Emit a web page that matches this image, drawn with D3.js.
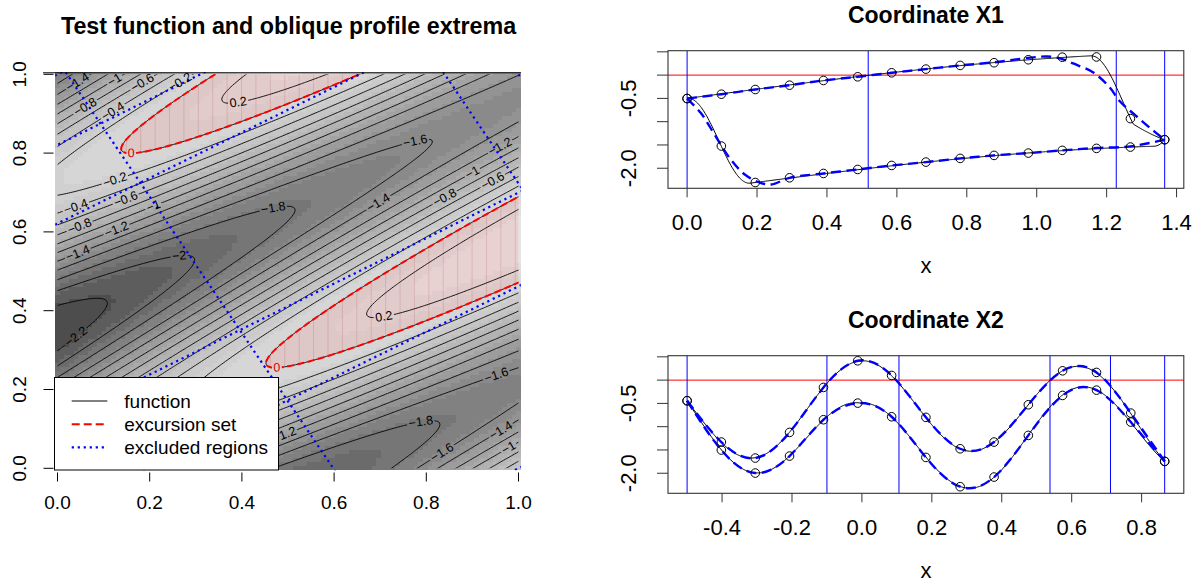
<!DOCTYPE html>
<html><head><meta charset="utf-8">
<script src="https://cdn.jsdelivr.net/npm/d3@7"></script>
<style>
body{margin:0;background:#fff;}
svg{display:block;font-family:"Liberation Sans",Arial,Helvetica,sans-serif;}
</style></head><body>
<svg id="chart" width="1196" height="583"></svg>
<script>
// ================= DATA =================
// test function  f(x) = sin(a*X1 + b) + cos(c*X2 + d) + offset,
// X1, X2 = projections of x on the oblique directions (angle below)
const obliqueAngleDeg = 30;
const testFunParams = [1, 0, 10, 0];
const testFunOffset = [-1.5];
const threshold = [0];
const contourLevels = [-2.2, -2, -1.8, -1.6, -1.4, -1.2, -1, -0.8, -0.6, -0.4, -0.2, 0, 0.2];
const imageGridSize = [100];
const grayLevelCount = [20];

// design points and profile extrema (coordinate X1)
const designX1 = [0, 0.098, 0.195, 0.293, 0.39, 0.488, 0.585, 0.683, 0.781, 0.878, 0.976, 1.073, 1.171, 1.268, 1.366];
const supX1 = [-0.503, -0.41, -0.309, -0.216, -0.115, -0.036, 0.05, 0.129, 0.208, 0.266, 0.33, 0.385, 0.39, -0.934, -1.387];
const infX1 = [-0.503, -1.523, -2.306, -2.205, -2.112, -2.026, -1.94, -1.868, -1.789, -1.724, -1.674, -1.616, -1.573, -1.545, -1.387];
// approximated profiles (blue dashed) for X1: [x, value]
const approxSupX1 = [[0,-0.503],[0.098,-0.41],[0.195,-0.309],[0.293,-0.216],[0.39,-0.115],[0.488,-0.036],[0.585,0.05],[0.683,0.129],[0.781,0.208],[0.878,0.275],[0.976,0.37],[1.03,0.4],[1.071,0.35],[1.104,0.25],[1.162,0.056],[1.209,-0.267],[1.237,-0.556],[1.28,-0.85],[1.323,-1.128],[1.366,-1.387]];
const approxInfX1 = [[0,-0.503],[0.04,-0.82],[0.078,-1.27],[0.121,-1.774],[0.165,-2.134],[0.21,-2.313],[0.241,-2.349],[0.293,-2.205],[0.39,-2.112],[0.488,-2.026],[0.585,-1.94],[0.683,-1.868],[0.781,-1.789],[0.878,-1.724],[0.976,-1.674],[1.073,-1.616],[1.171,-1.565],[1.268,-1.53],[1.366,-1.387]];

// coordinate X2
const designX2 = [-0.5, -0.402, -0.305, -0.207, -0.11, -0.012, 0.085, 0.183, 0.281, 0.378, 0.476, 0.574, 0.671, 0.769, 0.866];
const supX2 = [-0.443, -1.33, -1.674, -1.123, -0.157, 0.415, 0.1, -0.8, -1.474, -1.33, -0.529, 0.2, 0.165, -0.708, -1.745];
const infX2 = [-0.443, -1.502, -1.996, -1.631, -0.851, -0.494, -0.787, -1.66, -2.289, -2.082, -1.187, -0.329, -0.215, -0.901, -1.745];

// boundaries of the excluded regions along each coordinate
const excludedX1 = [0, 0.518, 1.2275, 1.366];
const excludedX2 = [-0.5, -0.1, 0.106, 0.538, 0.711, 0.866];

// axis ticks
const ticksLeft = [0, 0.2, 0.4, 0.6, 0.8, 1];
const ticksX1 = [0, 0.2, 0.4, 0.6, 0.8, 1, 1.2, 1.4];
const ticksX2 = [-0.4, -0.2, 0, 0.2, 0.4, 0.6, 0.8];
const ticksYProfile = [0.5, 0, -0.5, -1, -1.5, -2];
const labelledYProfile = [-0.5, -2];

const legendLabels = ["function", "excursion set", "excluded regions"];

// approximate spots (data coords) where contour labels sit
const contourLabelSpots = [
  [-1.4,0.042,0.981],[-1,0.125,0.986],[-0.6,0.183,0.981],[-0.2,0.266,0.981],
  [-0.8,0.062,0.918],[-0.4,0.12,0.903],[0.2,0.392,0.93],[0,0.161,0.8],
  [-0.2,0.125,0.732],[-0.4,0.038,0.668],[-0.6,0.146,0.689],[-1,0.208,0.664],
  [-0.8,0.049,0.613],[-1.2,0.128,0.609],[-1.8,0.47,0.651],[-1.4,0.042,0.546],
  [-2,0.266,0.533],[-1.6,0.776,0.821],[-1.2,0.964,0.812],[-1,0.902,0.749],
  [-0.6,0.949,0.723],[-0.8,0.841,0.681],[-1.4,0.696,0.673],[-2.2,0.042,0.33],
  [0.2,0.707,0.393],[0,0.474,0.258],[-1.6,0.953,0.237],[-1.8,0.79,0.11],
  [-1.6,0.83,0.047],[-1.4,0.964,0.093],[-1,0.978,0.051],[-1.2,0.493,0.08]
];

// ================= HELPERS =================
const svg = d3.select("#chart");
const W = 1196, H = 583;
const th = obliqueAngleDeg * Math.PI / 180;
const psi1 = [Math.cos(th), Math.sin(th)];
const psi2 = [-Math.sin(th), Math.cos(th)];
const proj = (p, x1, x2) => p[0] * x1 + p[1] * x2;
function testF(x1, x2) {
  const [a, b, c, d] = testFunParams;
  return Math.sin(a * proj(psi1, x1, x2) + b) + Math.cos(c * proj(psi2, x1, x2) + d) + testFunOffset[0];
}
function grayColors(n, start, end, gamma) {
  const a = Math.pow(start, gamma), b = Math.pow(end, gamma);
  return d3.range(n).map(i => {
    const v = Math.round(Math.pow(a + (b - a) * i / (n - 1), 1 / gamma) * 255);
    return `rgb(${v},${v},${v})`;
  });
}
const minus = s => s.replace(/^-/, "\u2212");
const fmt1 = v => d3.format(".1f")(v).replace("\u2212", "-");
const defs = svg.append("defs");

// ================= LEFT PANEL =================
const xL = d3.scaleLinear().domain([0, 1]).range([57.5, 518.5]);
const yL = d3.scaleLinear().domain([0, 1]).range([468.3, 74.3]);
const nImg = imageGridSize[0];
const half = 0.5 / (nImg - 1);
const reg = { l: xL(-half), r: xL(1 + half), t: yL(1 + half), b: yL(-half) };

defs.append("clipPath").attr("id", "clipUnit").append("rect")
  .attr("x", xL(0)).attr("y", yL(1)).attr("width", xL(1) - xL(0)).attr("height", yL(0) - yL(1));
defs.append("clipPath").attr("id", "clipReg").append("rect")
  .attr("x", reg.l).attr("y", reg.t).attr("width", reg.r - reg.l).attr("height", reg.b - reg.t);

// gray image
const gv = d3.range(nImg).map(i => i / (nImg - 1));
const z = gv.map(y => gv.map(x => testF(x, y)));
const zExt = d3.extent(z.flat());
const cols = grayColors(grayLevelCount[0], 0.3, 0.9, 2.2);
const colIdx = v => Math.min(cols.length - 1, Math.max(0, Math.floor((v - zExt[0]) / (zExt[1] - zExt[0]) * cols.length)));
const gImg = svg.append("g").attr("shape-rendering", "crispEdges");
for (let j = 0; j < nImg; j++) {
  let i = 0;
  while (i < nImg) {
    const c = colIdx(z[j][i]);
    let k = i;
    while (k + 1 < nImg && colIdx(z[j][k + 1]) === c) k++;
    gImg.append("rect")
      .attr("x", xL(gv[i] - half)).attr("width", xL(gv[k] + half) - xL(gv[i] - half))
      .attr("y", yL(gv[j] + half)).attr("height", yL(gv[j] - half) - yL(gv[j] + half))
      .attr("fill", cols[c]);
    i = k + 1;
  }
}

// contours on a fine grid (slightly larger than the unit square)
const cStep = 0.004, cLo = -0.02, cN = Math.round(1.04 / cStep) + 1;
const cVals = new Float64Array(cN * cN);
for (let j = 0; j < cN; j++) for (let i = 0; i < cN; i++) cVals[j * cN + i] = testF(cLo + i * cStep, cLo + j * cStep);
const contoursAll = d3.contours().size([cN, cN]).thresholds(contourLevels)(cVals);
const toPx = p => [xL(cLo + (p[0] - 0.5) * cStep), yL(cLo + (p[1] - 0.5) * cStep)];
const ringsOf = lev => {
  const c = contoursAll.find(d => Math.abs(d.value - lev) < 1e-9);
  if (!c) return [];
  return c.coordinates.flatMap(poly => poly.map(r => r.map(toPx)));
};
const ringPath = rings => rings.map(r => "M" + r.map(p => p[0].toFixed(2) + "," + p[1].toFixed(2)).join("L") + "Z").join("");

// excursion set shading
const exRings = ringsOf(threshold[0]);
defs.append("clipPath").attr("id", "clipEx").attr("clip-path", "url(#clipUnit)")
  .append("path").attr("d", ringPath(exRings)).attr("clip-rule", "evenodd");
const gEx = svg.append("g").attr("clip-path", "url(#clipUnit)");
gEx.append("path").attr("d", ringPath(exRings)).attr("fill", "rgba(255,0,0,0.09)").attr("fill-rule", "evenodd");
const gSeam = svg.append("g").attr("clip-path", "url(#clipEx)");
gSeam.append("g").attr("clip-path", "url(#clipUnit)").selectAll("line").data(d3.range(0, 34)).join("line")
  .attr("x1", k => xL(-0.007 + k / 32)).attr("x2", k => xL(-0.007 + k / 32))
  .attr("y1", reg.t).attr("y2", reg.b).attr("stroke", "rgba(140,0,0,0.13)").attr("stroke-width", 1);

// masks for label gaps
const maskW = defs.append("mask").attr("id", "gapMask").attr("maskUnits", "userSpaceOnUse")
  .attr("x", 0).attr("y", 0).attr("width", W).attr("height", H);
maskW.append("rect").attr("x", 0).attr("y", 0).attr("width", W).attr("height", H).attr("fill", "white");
const maskR = defs.append("mask").attr("id", "gapMaskRed").attr("maskUnits", "userSpaceOnUse")
  .attr("x", 0).attr("y", 0).attr("width", W).attr("height", H);
maskR.append("rect").attr("x", 0).attr("y", 0).attr("width", W).attr("height", H).attr("fill", "white");

const labelFont = 12.5;
const labelSpecs = contourLabelSpots.map(([lev, lx, ly]) => {
  const rings = ringsOf(lev);
  const tx = xL(lx), ty = yL(ly);
  let best = null;
  rings.forEach((r, ri) => r.forEach((p, pi) => {
    if (p[0] < xL(0) || p[0] > xL(1) || p[1] < yL(1) || p[1] > yL(0)) return;
    const d = (p[0] - tx) ** 2 + (p[1] - ty) ** 2;
    if (!best || d < best.d) best = { d, ri, pi };
  }));
  return { lev, best, rings };
});

// black contours
const gCont = svg.append("g").attr("clip-path", "url(#clipUnit)");
const gContInner = gCont.append("g").attr("mask", "url(#gapMask)");
contourLevels.forEach(lev => {
  gContInner.append("path").attr("d", ringPath(ringsOf(lev)))
    .attr("fill", "none").attr("stroke", "#000").attr("stroke-width", 0.9);
});
// red excursion-set boundary
gCont.append("g").attr("mask", "url(#gapMaskRed)").append("path").attr("d", ringPath(exRings))
  .attr("fill", "none").attr("stroke", "#ff0000").attr("stroke-width", 2).attr("stroke-dasharray", "7,3.5");

// label text
const gLab = svg.append("g");
labelSpecs.forEach(s => {
  if (!s.best) return;
  const isZero = Math.abs(s.lev) < 1e-9;
  const txt = isZero ? "0" : minus(String(s.lev));
  const t = gLab.append("text").attr("font-size", labelFont).attr("text-anchor", "middle")
    .attr("dominant-baseline", "central").attr("fill", isZero ? "#e00000" : "#000").text(txt);
  const w = t.node().getComputedTextLength();
  const r = s.rings[s.best.ri];
  const m = r.length - 1;
  const walk = dir => {
    let idx = s.best.pi, acc = 0, p = r[idx];
    for (let n = 0; n < m; n++) {
      let ni = (idx + dir + m) % m;
      const q = r[ni];
      const seg = Math.hypot(q[0] - p[0], q[1] - p[1]);
      if (acc + seg >= w / 2) {
        const f = (w / 2 - acc) / seg;
        return [p[0] + (q[0] - p[0]) * f, p[1] + (q[1] - p[1]) * f];
      }
      acc += seg; p = q; idx = ni;
    }
    return p;
  };
  const a = walk(-1), b = walk(1);
  let ang = Math.atan2(b[1] - a[1], b[0] - a[0]) * 180 / Math.PI;
  if (ang > 90) ang -= 180;
  if (ang < -90) ang += 180;
  const c = r[s.best.pi];
  const tr = `translate(${c[0]},${c[1]}) rotate(${ang})`;
  t.attr("transform", tr);
  const gap = (mk) => mk.append("rect").attr("x", -w / 2 - 1.5).attr("y", -labelFont * 0.45)
    .attr("width", w + 3).attr("height", labelFont * 0.9).attr("transform", tr).attr("fill", "black");
  gap(maskW);
  if (isZero) gap(maskR);
});

// excluded regions (blue dotted lines)
const gEx2 = svg.append("g").attr("clip-path", "url(#clipReg)");
const excLines = [];
excludedX1.forEach(c => excLines.push([psi1, psi2, c]));
excludedX2.forEach(c => excLines.push([psi2, psi1, c]));
excLines.forEach(([p, q, c]) => {
  const A = [c * p[0] - 2 * q[0], c * p[1] - 2 * q[1]];
  const B = [c * p[0] + 2 * q[0], c * p[1] + 2 * q[1]];
  gEx2.append("line").attr("x1", xL(A[0])).attr("y1", yL(A[1])).attr("x2", xL(B[0])).attr("y2", yL(B[1]))
    .attr("stroke", "#0000ff").attr("stroke-width", 2.2).attr("stroke-dasharray", "2.2,3.8");
});
gLab.raise();

// top border line
svg.append("line").attr("x1", 43).attr("x2", reg.r).attr("y1", reg.t + 0.5).attr("y2", reg.t + 0.5)
  .attr("stroke", "#000").attr("stroke-width", 1);

// axes of left panel
const gAxL = svg.append("g");
ticksLeft.forEach(v => {
  gAxL.append("line").attr("x1", xL(v)).attr("x2", xL(v)).attr("y1", 472.5).attr("y2", 481.5).attr("stroke", "#000");
  gAxL.append("text").attr("x", xL(v)).attr("y", 509).attr("text-anchor", "middle").attr("font-size", 19).text(fmt1(v));
  gAxL.append("line").attr("x1", 43.5).attr("x2", 53.5).attr("y1", yL(v)).attr("y2", yL(v)).attr("stroke", "#000");
  gAxL.append("text").attr("transform", `translate(25.5,${yL(v)}) rotate(-90)`).attr("text-anchor", "middle").attr("font-size", 19).text(fmt1(v));
});
svg.append("text").attr("x", 288.5).attr("y", 34).attr("text-anchor", "middle").attr("font-size", 23.3)
  .attr("font-weight", "bold").text("Test function and oblique profile extrema");

// legend
const lg = svg.append("g");
lg.append("rect").attr("x", 54.5).attr("y", 377.5).attr("width", 224).attr("height", 92.5)
  .attr("fill", "#fff").attr("stroke", "#000").attr("stroke-width", 1);
const legStyles = [
  { c: "#000", w: 1, d: null },
  { c: "#ff0000", w: 2, d: "8,4" },
  { c: "#0000ff", w: 2.2, d: "2.2,3.8" }
];
legendLabels.forEach((t, i) => {
  const yy = 401 + i * 23.2;
  const ln = lg.append("line").attr("x1", 71.7).attr("x2", 107.3).attr("y1", yy).attr("y2", yy)
    .attr("stroke", legStyles[i].c).attr("stroke-width", legStyles[i].w);
  if (legStyles[i].d) ln.attr("stroke-dasharray", legStyles[i].d);
  lg.append("text").attr("x", 124.3).attr("y", yy + 7).attr("font-size", 19).text(t);
});

// ================= PROFILE PANELS =================
function segmentRange(dir, perp, t) {
  let lo = -Infinity, hi = Infinity;
  for (let i = 0; i < 2; i++) {
    const base = t * dir[i], p = perp[i];
    if (Math.abs(p) < 1e-12) continue;
    const s1 = -base / p, s2 = (1 - base) / p;
    lo = Math.max(lo, Math.min(s1, s2)); hi = Math.min(hi, Math.max(s1, s2));
  }
  if (hi < lo) { const m = (hi + lo) / 2; lo = hi = m; }
  return [lo, hi];
}
function computeProfile(dir, perp, range) {
  const nT = 500, nS = 600;
  return d3.range(nT + 1).map(k => {
    const t = range[0] + (range[1] - range[0]) * k / nT;
    const [lo, hi] = segmentRange(dir, perp, t);
    let mx = -Infinity, mn = Infinity;
    for (let q = 0; q <= nS; q++) {
      const s = lo + (hi - lo) * q / nS;
      const v = testF(t * dir[0] + s * perp[0], t * dir[1] + s * perp[1]);
      if (v > mx) mx = v; if (v < mn) mn = v;
    }
    return { t, sup: mx, inf: mn };
  });
}
const corners = [[0, 0], [1, 0], [0, 1], [1, 1]];
const rangeX1 = d3.extent(corners, c => proj(psi1, c[0], c[1]));
const rangeX2 = d3.extent(corners, c => proj(psi2, c[0], c[1]));
const profX1 = computeProfile(psi1, psi2, rangeX1);
const profX2 = computeProfile(psi2, psi1, rangeX2);
const yAll = [...profX1, ...profX2].flatMap(d => [d.sup, d.inf]);
const expand = e => [e[0] - 0.04 * (e[1] - e[0]), e[1] + 0.04 * (e[1] - e[0])];
const yLim = expand(d3.extent(yAll));

function panel(o) {
  const x = d3.scaleLinear().domain(expand(o.range)).range([668, 1183.8]);
  const y = d3.scaleLinear().domain(yLim).range([o.bottom, o.top]);
  const id = "clip" + o.id;
  defs.append("clipPath").attr("id", id).append("rect")
    .attr("x", 668).attr("y", o.top).attr("width", 1183.8 - 668).attr("height", o.bottom - o.top);
  const g = svg.append("g").attr("clip-path", `url(#${id})`);
  g.append("line").attr("x1", 668).attr("x2", 1183.8).attr("y1", y(threshold[0])).attr("y2", y(threshold[0]))
    .attr("stroke", "#ff0000").attr("stroke-width", 1);
  o.excl.forEach(v => g.append("line").attr("x1", x(v)).attr("x2", x(v)).attr("y1", o.top).attr("y2", o.bottom)
    .attr("stroke", "#0000ff").attr("stroke-width", 1));
  ["sup", "inf"].forEach(k => g.append("path").datum(o.prof)
    .attr("d", d3.line().x(d => x(d.t)).y(d => y(d[k])))
    .attr("fill", "none").attr("stroke", "#000").attr("stroke-width", 1));
  o.approx.forEach(arr => g.append("path").datum(arr)
    .attr("d", d3.line().x(d => x(d[0])).y(d => y(d[1])).curve(o.curve))
    .attr("fill", "none").attr("stroke", "#0000ff").attr("stroke-width", 2.4).attr("stroke-dasharray", "10,5.5"));
  [o.sup, o.inf].forEach(vals => g.selectAll(null).data(vals.map((v, i) => [o.design[i], v])).join("circle")
    .attr("cx", d => x(d[0])).attr("cy", d => y(d[1])).attr("r", 4.3)
    .attr("fill", "none").attr("stroke", "#000").attr("stroke-width", 1));
  svg.append("rect").attr("x", 668).attr("y", o.top).attr("width", 1183.8 - 668).attr("height", o.bottom - o.top)
    .attr("fill", "none").attr("stroke", "#333").attr("stroke-width", 1.1);
  const ga = svg.append("g");
  o.ticks.forEach(v => {
    ga.append("line").attr("x1", x(v)).attr("x2", x(v)).attr("y1", o.bottom).attr("y2", o.bottom + 9).attr("stroke", "#333");
    ga.append("text").attr("x", x(v)).attr("y", o.bottom + 41.5).attr("text-anchor", "middle").attr("font-size", 22).text(fmt1(v));
  });
  ticksYProfile.forEach(v => {
    ga.append("line").attr("x1", 657).attr("x2", 668).attr("y1", y(v)).attr("y2", y(v)).attr("stroke", "#333");
  });
  labelledYProfile.forEach(v => {
    ga.append("text").attr("transform", `translate(636,${y(v)}) rotate(-90)`).attr("text-anchor", "middle")
      .attr("font-size", 22).text(fmt1(v));
  });
  svg.append("text").attr("x", (668 + 1183.8) / 2).attr("y", o.top - 27.5).attr("text-anchor", "middle")
    .attr("font-size", 23).attr("font-weight", "bold").text(o.title);
  svg.append("text").attr("x", (668 + 1183.8) / 2).attr("y", o.bottom + 85).attr("text-anchor", "middle")
    .attr("font-size", 22).text("x");
}
panel({ id: "X1", title: "Coordinate X1", range: rangeX1, top: 50.7, bottom: 188.3, prof: profX1,
  design: designX1, sup: supX1, inf: infX1, approx: [approxSupX1, approxInfX1],
  curve: d3.curveCatmullRom.alpha(0.5), excl: excludedX1, ticks: ticksX1 });
panel({ id: "X2", title: "Coordinate X2", range: rangeX2, top: 355.7, bottom: 493.3, prof: profX2,
  design: designX2, sup: supX2, inf: infX2,
  approx: [designX2.map((v, i) => [v, supX2[i]]), designX2.map((v, i) => [v, infX2[i]])],
  curve: d3.curveNatural, excl: excludedX2, ticks: ticksX2 });
</script>
</body></html>
